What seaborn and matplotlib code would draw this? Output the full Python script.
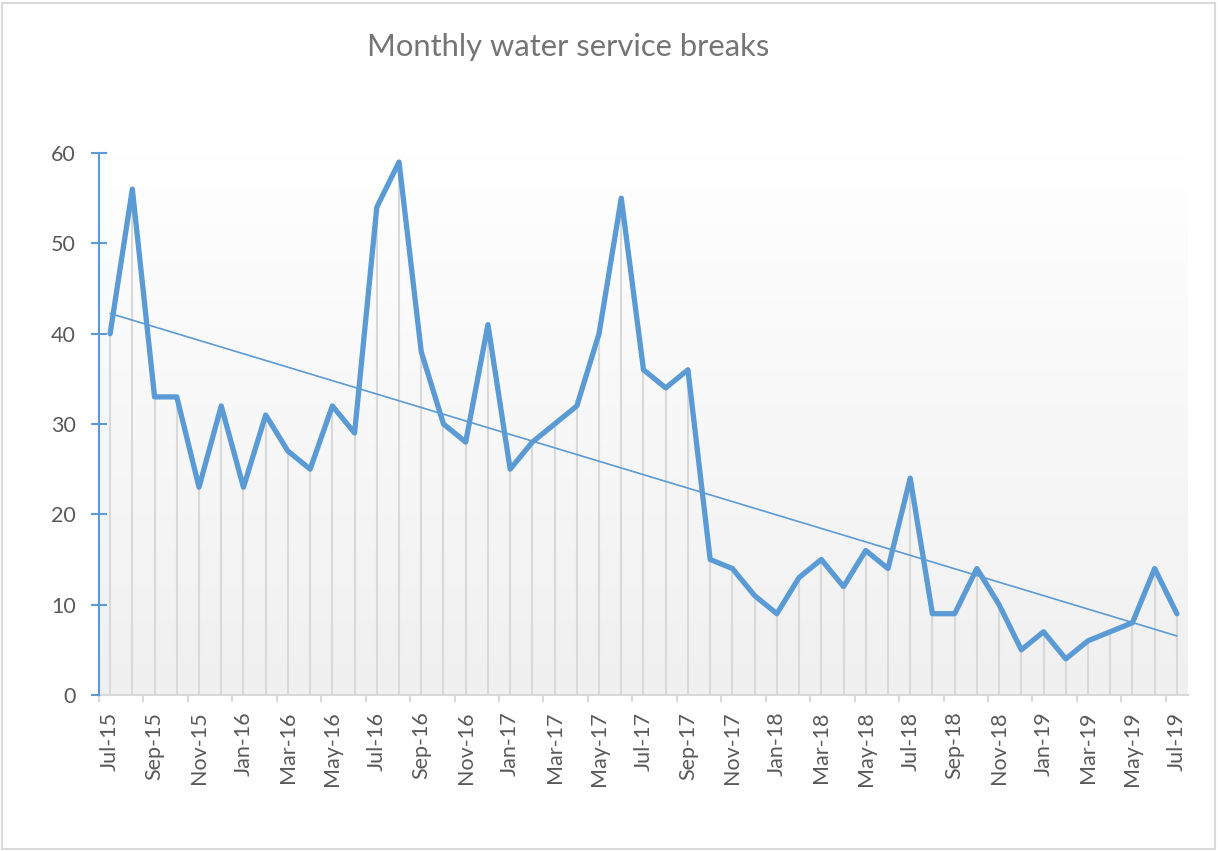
import numpy as np
import pandas as pd
import seaborn as sns
import matplotlib.pyplot as plt
from matplotlib.colors import LinearSegmentedColormap
from matplotlib.patches import Rectangle

# monthly breaks, Jul-15 .. Jul-19
months = pd.date_range("2015-07-01", "2019-07-01", freq="MS").strftime("%b-%y").tolist()
breaks = [40, 56, 33, 33, 23, 32, 23, 31, 27, 25, 32, 29,
          54, 59, 38, 30, 28, 41, 25, 28, 30, 32, 40, 55,
          36, 34, 36, 15, 14, 11, 9, 13, 15, 12, 16, 14,
          24, 9, 9, 14, 10, 5, 7, 4, 6, 7, 8, 14, 9]
yticks = [0, 10, 20, 30, 40, 50, 60]

df = pd.DataFrame({"idx": np.arange(len(months)), "month": months, "breaks": breaks})

sns.set_style("white")
plt.rcParams["font.family"] = ["Lato", "DejaVu Sans"]

blue = "#5B9BD5"
grey_txt = "#595959"

fig = plt.figure(figsize=(12.18, 8.51), dpi=100)
ax = fig.add_axes([99 / 1218, 1 - 695 / 851, (1188 - 99) / 1218, (695 - 153) / 851])

# background gradient, white at top to light grey at the bottom
cmap = LinearSegmentedColormap.from_list("bg", ["#F0F0F0", "#FFFFFF"])
ax.imshow(np.linspace(0, 1, 256)[::-1, None], cmap=cmap, aspect="auto",
          extent=[-0.5, len(months) - 0.5, 0, 60], zorder=0)

# drop lines
ax.vlines(df["idx"], 0, df["breaks"], color="#D9D9D9", lw=1.5, zorder=1)

sns.lineplot(data=df, x="idx", y="breaks", ax=ax, color=blue, lw=3.8, zorder=3)
sns.regplot(data=df, x="idx", y="breaks", ax=ax, scatter=False, ci=None,
            line_kws={"color": blue, "lw": 1.2, "zorder": 4})

ax.set_xlim(-0.5, len(months) - 0.5)
ax.set_ylim(0, 60)
ax.set_xlabel("")
ax.set_ylabel("")

ax.set_yticks(yticks)
ax.tick_params(axis="y", direction="inout", length=11, width=1.5, color=blue,
               labelsize=15.5, labelcolor=grey_txt, pad=11, left=True)

ax.set_xticks(df["idx"][::2])
ax.set_xticklabels(df["month"][::2], rotation=90)
ax.set_xticks(np.arange(-0.5, len(months) - 1, 2), minor=True)
ax.tick_params(axis="x", which="major", length=0, labelsize=15.5, labelcolor=grey_txt, pad=12)
ax.tick_params(axis="x", which="minor", direction="out", length=5, width=1.5,
               color="#D9D9D9", bottom=True)

for s in ["top", "right"]:
    ax.spines[s].set_visible(False)
ax.spines["left"].set_color(blue)
ax.spines["left"].set_linewidth(1.5)
ax.spines["bottom"].set_color("#D9D9D9")
ax.spines["bottom"].set_linewidth(1.5)
ax.spines["left"].set_zorder(5)

fig.text(568 / 1218, 1 - 47 / 851, "Monthly water service breaks", ha="center", va="center",
         fontsize=22.3, color="#757575")

fig.patches.append(Rectangle((2 / 1218, 2 / 851), 1213 / 1218, 846 / 851, transform=fig.transFigure,
                             fill=False, edgecolor="#D9D9D9", lw=1.5))

fig.savefig("out.png", dpi=100)
